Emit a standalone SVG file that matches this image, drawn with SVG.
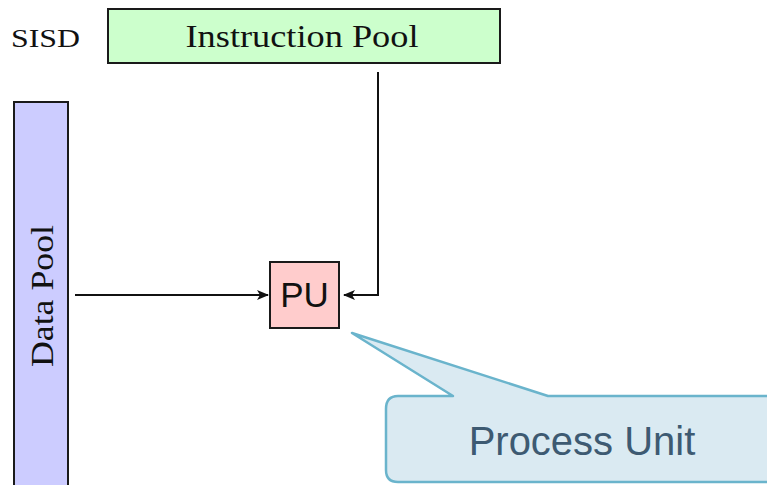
<svg xmlns="http://www.w3.org/2000/svg" width="767" height="485" viewBox="0 0 767 485">
  <style>
    .box { stroke: #1a1a1a; stroke-width: 2; }
    .serif { font-family: "Liberation Serif", "DejaVu Serif", serif; fill: #111; }
    .sans { font-family: "Liberation Sans", Arial, sans-serif; fill: #111; }
    .wire { fill: none; stroke: #111; stroke-width: 2; }
  </style>
  <defs>
    <marker id="head" viewBox="0 0 12 10" refX="11" refY="5" markerWidth="12" markerHeight="10" markerUnits="userSpaceOnUse" orient="auto">
      <path d="M0,0 L12,5 L0,10 L3,5 Z" fill="#111"/>
    </marker>
  </defs>
  <rect width="767" height="485" fill="#ffffff"/>

  <text class="serif" x="11" y="47" font-size="25" textLength="69" lengthAdjust="spacingAndGlyphs">SISD</text>

  <g id="instruction-pool">
    <rect class="box" x="108" y="9" width="392" height="54" fill="#ccffcc"/>
    <text class="serif" x="302" y="47" font-size="31" text-anchor="middle" textLength="233" lengthAdjust="spacingAndGlyphs">Instruction Pool</text>
  </g>

  <g id="data-pool">
    <rect class="box" x="14" y="102" width="54" height="400" fill="#ccccff"/>
    <text class="serif" transform="translate(53,296) rotate(-90)" x="0" y="0" font-size="31" text-anchor="middle" textLength="142" lengthAdjust="spacingAndGlyphs">Data Pool</text>
  </g>

  <g id="pu">
    <rect class="box" x="270" y="262" width="69" height="66" fill="#ffcccc"/>
    <text class="sans" x="304.5" y="307" font-size="35" text-anchor="middle">PU</text>
  </g>

  <g id="connectors">
    <path class="wire" d="M75,295 H268" marker-end="url(#head)"/>
    <path class="wire" d="M378,72 V295 H344" marker-end="url(#head)"/>
  </g>

  <g id="callout">
    <path d="M352,333 L548,396 H790 V482 H398 Q386,482 386,470 V409 Q386,396 398,396 H453 Z" fill="#daeaf2" stroke="#6ab4cc" stroke-width="2.5" stroke-linejoin="round"/>
    <text x="582" y="455" font-family="'Liberation Sans', Arial, sans-serif" font-size="40" fill="#3d5a72" text-anchor="middle">Process Unit</text>
  </g>
</svg>
